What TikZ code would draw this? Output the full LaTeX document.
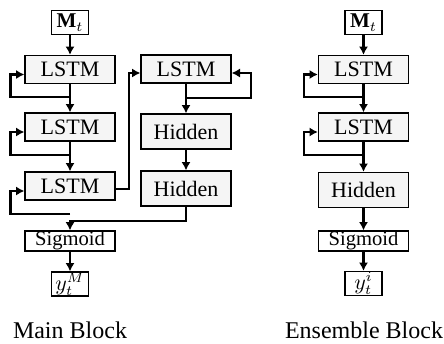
\documentclass[tikz,border=0pt]{standalone}
\usepackage{fontspec}
\setmainfont{Liberation Serif}
\usetikzlibrary{calc,arrows.meta}
\begin{document}
\begin{tikzpicture}[
		x={(0.5pt,0pt)},
		y={(0pt,-0.5pt)},
		box/.style={draw=black,line width=0.6pt,fill=gray!8,minimum width=45pt,inner sep=0pt,font=\fontsize{11}{13}\selectfont},
		lstm/.style={box,minimum height=14pt},
		hidden/.style={box,minimum height=17.5pt},
		sig/.style={box,fill=white,minimum height=10pt,font=\fontsize{10.3}{12}\selectfont},
		io/.style={draw=black,line width=0.6pt,minimum width=18.5pt,minimum height=12pt,inner sep=0pt,font=\fontsize{10.5}{12}\selectfont},
		arr/.style={-{Latex[length=4.2pt,width=4.6pt]},line width=1.1pt},
	]
		\useasboundingbox (0,0) rectangle (444,343);
		
		% main block
		\node[io] (mtM) at (70,22.5) {$\mathbf{M}_t$};
		\node[lstm] (lstmA) at (70,69.5) {LSTM};
		\node[lstm] (lstmB) at (70,127) {LSTM};
		\node[lstm] (lstmC) at (70,186) {LSTM};
		\node[lstm] (lstmD) at (186,69) {LSTM};
		\node[hidden] (hidA) at (186,131.5) {Hidden};
		\node[hidden] (hidB) at (186,188.5) {Hidden};
		\node[sig] (sigM) at (70,241) {Sigmoid};
		\node[io] (yM) at (70,284) {$y_t^M$};
		\node[font=\fontsize{12}{14}\selectfont] (mainlbl) at (70,330) {Main Block};
		
		% ensemble block
		\node[io] (mtE) at (363.5,22.5) {$\mathbf{M}_t$};
		\node[lstm] (lstmE) at (363.5,69.5) {LSTM};
		\node[lstm] (lstmF) at (363.5,127) {LSTM};
		\node[hidden] (hidE) at (363.5,190) {Hidden};
		\node[sig] (sigE) at (363.5,241) {Sigmoid};
		\node[io] (yE) at (363.5,283.5) {$y_t^i$};
		\node[font=\fontsize{12}{14}\selectfont] (enslbl) at (364,330) {Ensemble Block};
		
		\foreach \a/\b in {mtM/lstmA, lstmA/lstmB, lstmB/lstmC, lstmD/hidA, hidA/hidB, sigM/yM, mtE/lstmE, lstmE/lstmF, lstmF/hidE, hidE/sigE, sigE/yE}{
			\draw[arr] (\a) -- (\b);
		}
		\foreach \n in {lstmA, lstmB, lstmC, lstmE, lstmF}{
			\draw[arr] ($(\n.south)+(0,13)$) -| ($(\n.west)+(-14,5)$) -- ($(\n.west)+(0,5)$);
		}
		\draw[arr] ($(lstmD.south)+(0,14)$) -| ($(lstmD.east)+(19,4)$) -- ($(lstmD.east)+(0,4)$);
		\draw[arr] ($(lstmC.east)+(0,3)$) -- ++(13,0) |- ($(lstmD.west)+(0,4)$);
		\draw[arr] (hidB.south) -- ++(0,14) -| (sigM.north);
	\end{tikzpicture}
\end{document}
